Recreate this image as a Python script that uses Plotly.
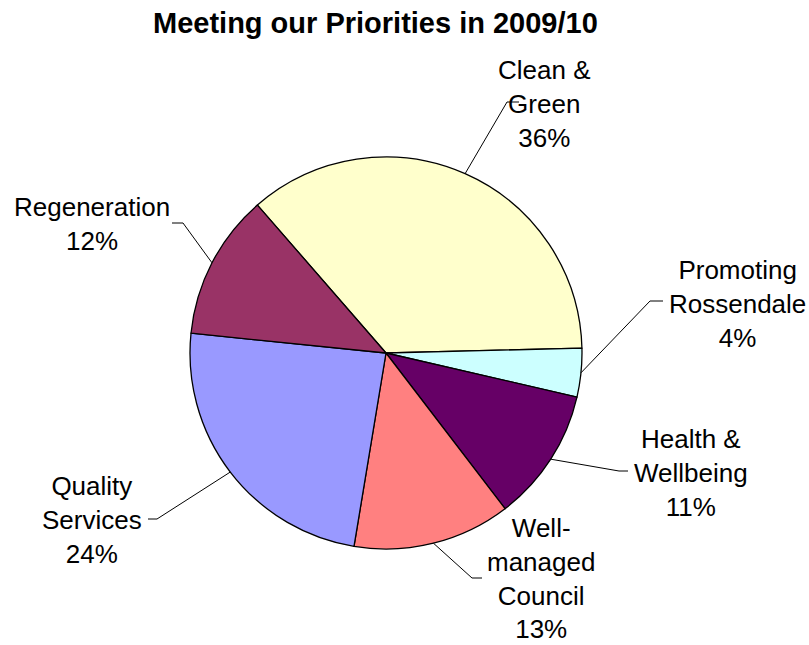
import math
import plotly.graph_objects as go

# Share of spend by corporate priority, 2009/10
priorities = ["Clean &<br>Green", "Promoting<br>Rossendale", "Health &<br>Wellbeing",
              "Well-<br>managed<br>Council", "Quality<br>Services", "Regeneration"]
shares = [36, 4, 11, 13, 24, 12]
colors = ["#FFFFCC", "#CCFFFF", "#660066", "#FF8080", "#9999FF", "#993366"]

W, H = 809, 645
CX, CY, R = 386, 353, 196          # pie centre and radius in pixels
START = -41                         # first slice starts 41 deg left of 12 o'clock

# label block centres and leader-line elbows (pixels)
label_pos = [(544, 104), (737, 304), (691, 473), (541, 578), (92, 520), (92, 224)]
elbows = [(507, 102, 519), (650, 301, 663), (619, 471, 628),
          (472, 578, 482), (157, 519, 148), (183, 223, 172)]


def px(x, y):
    return x / W, 1 - y / H


fig = go.Figure(go.Pie(
    labels=[p.replace("<br>", " ") for p in priorities],
    values=shares,
    sort=False,
    direction="clockwise",
    rotation=START,
    marker=dict(colors=colors, line=dict(color="black", width=1.3)),
    textinfo="none",
    hoverinfo="label+percent",
    domain=dict(x=[(CX - R) / W, (CX + R) / W], y=[1 - (CY + R) / H, 1 - (CY - R) / H]),
    showlegend=False,
))

total = sum(shares)
acc = 0
shapes, annotations = [], []
for name, v, (lx, ly), (ex, ey, hx) in zip(priorities, shares, label_pos, elbows):
    mid = math.radians(START + (acc + v / 2) / total * 360)
    acc += v
    edge = (CX + R * math.sin(mid), CY - R * math.cos(mid))
    x0, y0 = px(*edge)
    x1, y1 = px(ex, ey)
    x2, y2 = px(hx, ey)
    shapes.append(dict(type="path", xref="paper", yref="paper",
                       path=f"M {x0},{y0} L {x1},{y1} L {x2},{y2}",
                       line=dict(color="black", width=1)))
    ax, ay = px(lx, ly)
    annotations.append(dict(x=ax, y=ay, xref="paper", yref="paper",
                            text=f"{name}<br>{v}%", showarrow=False,
                            xanchor="center", yanchor="middle", align="center",
                            font=dict(family="Liberation Sans, Arial", size=26, color="black")))

tx, ty = px(375, 23)
annotations.append(dict(x=tx, y=ty, xref="paper", yref="paper",
                        text="<b>Meeting our Priorities in 2009/10</b>", showarrow=False,
                        xanchor="center", yanchor="middle",
                        font=dict(family="Liberation Sans, Arial", size=29, color="black")))

fig.update_layout(
    width=W, height=H,
    margin=dict(l=0, r=0, t=0, b=0),
    paper_bgcolor="white",
    plot_bgcolor="white",
    shapes=shapes,
    annotations=annotations,
)

fig.write_html("out.html")
